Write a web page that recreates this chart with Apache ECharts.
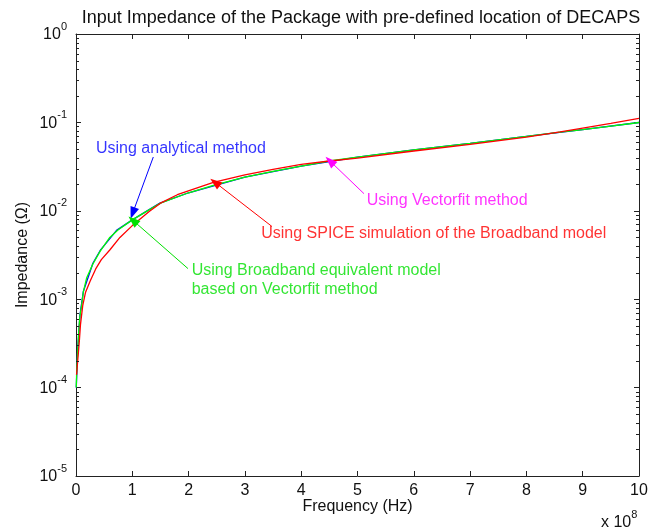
<!DOCTYPE html>
<html>
<head>
<meta charset="utf-8">
<script src="https://cdn.jsdelivr.net/npm/echarts@6/dist/echarts.min.js"></script>
<style>
html,body{margin:0;padding:0;background:#fff;}
#chart{width:660px;height:529px;}
</style>
</head>
<body>
<div id="chart"></div>
<script>
// ---- data (frequency in units of 1e8 Hz, impedance in ohms) ----
const titleText = 'Input Impedance of the Package with pre-defined location of DECAPS';
const xTickLabels = ['0','1','2','3','4','5','6','7','8','9','10'];
const yDecades = [-5, -4, -3, -2, -1, 0];
const minorMantissas = [2, 3, 4, 5, 6, 7, 8, 9];

const freqBlue = [0.005, 0.03, 0.07, 0.13, 0.3, 0.43, 0.72, 1.0, 1.49, 2.0, 3.0, 4.0, 5.0, 6.0, 7.0, 8.0, 9.0, 10.0];
const zBlue = [1.0e-4, 2.7e-4, 6.6e-4, 1.22e-3, 2.55e-3, 3.56e-3, 6.0e-3, 7.9e-3, 1.22e-2, 1.6e-2, 2.4e-2, 3.2e-2, 4.05e-2, 4.9e-2, 5.8e-2, 6.95e-2, 8.3e-2, 0.0997];

const freqGreen = [0.005, 0.012, 0.03, 0.05, 0.07, 0.1, 0.13, 0.19, 0.3, 0.43, 0.6, 0.75, 1.0, 1.5, 2.0, 2.44, 3.0, 3.5, 4.0, 4.5, 5.0, 6.0, 7.0, 8.0, 8.6, 9.0, 9.5, 10.0];
const zGreen = [1.0e-4, 1.5e-4, 2.6e-4, 4.5e-4, 6.5e-4, 8.5e-4, 1.2e-3, 1.75e-3, 2.5e-3, 3.5e-3, 5.0e-3, 6.1e-3, 7.9e-3, 1.22e-2, 1.6e-2, 1.94e-2, 2.4e-2, 2.8e-2, 3.2e-2, 3.66e-2, 4.05e-2, 4.9e-2, 5.8e-2, 6.95e-2, 7.75e-2, 8.3e-2, 9.1e-2, 0.0997];

const freqRed = [0.01, 0.03, 0.06, 0.08, 0.12, 0.17, 0.25, 0.35, 0.45, 0.6, 0.78, 1.0, 1.3, 1.5, 1.8, 2.44, 3.0, 3.5, 4.0, 4.5, 5.0, 6.0, 7.0, 8.0, 8.6, 9.0, 9.5, 10.0];
const zRed = [1.4e-4, 2.0e-4, 3.4e-4, 5.2e-4, 8.5e-4, 1.2e-3, 1.6e-3, 2.2e-3, 2.8e-3, 3.6e-3, 5.0e-3, 6.8e-3, 9.8e-3, 1.22e-2, 1.52e-2, 2.1e-2, 2.55e-2, 2.95e-2, 3.35e-2, 3.66e-2, 3.95e-2, 4.75e-2, 5.65e-2, 6.8e-2, 7.8e-2, 8.6e-2, 9.75e-2, 0.111];

// annotation texts, anchored (left edge, vertical centre) at data coordinates
const noteTexts = ['Using analytical method', 'Using Vectorfit method', 'Using SPICE simulation of the Broadband model', 'Using Broadband equivalent model\nbased on Vectorfit method'];
const noteX = [0.355, 5.163, 3.29, 2.055];
const noteY = [0.0510, 0.01288, 0.00554, 0.001625];
// arrows: from (x0,y0) to head (x1,y1)
const arrowX0 = [1.373, 5.115, 3.48, 1.989];
const arrowY0 = [0.0406, 0.01563, 0.00665, 0.00222];
const arrowX1 = [1.007, 4.51, 2.469, 1.012];
const arrowY1 = [0.00942, 0.0366, 0.0210, 0.00778];

// ---- build ----
const noteColors = ['#0000ff', '#ff00ff', '#ff0000', '#00e000'];
const FONT = '"Liberation Sans", Arial, Helvetica, sans-serif';
const zip = (a, b) => a.map((v, i) => [v, b[i]]);

const minorVals = [];
yDecades.slice(0, -1).forEach(d => minorMantissas.forEach(m => minorVals.push(m * Math.pow(10, d))));

const chart = echarts.init(document.getElementById('chart'), null, {renderer: 'canvas'});

const supRich = {
  b: {fontSize: 16, fontFamily: FONT, color: '#111', lineHeight: 16, padding: [0, 0, 6, 0], verticalAlign: 'bottom'},
  s: {fontSize: 11, fontFamily: FONT, color: '#111', lineHeight: 11, padding: [0, 0, 17, 0], verticalAlign: 'bottom'}
};

const axisLineStyle = {color: '#222', width: 1};

const option = {
  backgroundColor: '#ffffff',
  animation: false,
  title: {
    text: titleText,
    left: 356, top: 4, textAlign: 'center',
    textStyle: {fontFamily: FONT, fontSize: 18, fontWeight: 'normal', color: '#111'}
  },
  grid: {left: 76, right: 21, top: 34, bottom: 53, containLabel: false, outerBoundsMode: 'none'},
  xAxis: [{
    type: 'value', min: 0, max: 10, interval: 1, position: 'bottom',
    name: 'Frequency (Hz)', nameLocation: 'middle', nameGap: 23, nameMoveOverlap: false,
    nameTextStyle: {fontFamily: FONT, fontSize: 16, color: '#111'},
    axisLine: {show: true, lineStyle: axisLineStyle, onZero: false},
    axisTick: {show: true, inside: true, length: 5, lineStyle: axisLineStyle},
    axisLabel: {show: true, margin: 7, fontFamily: FONT, fontSize: 16, color: '#111',
      formatter: (v) => xTickLabels[Math.round(v)]},
    splitLine: {show: false}
  }, {
    type: 'value', min: 0, max: 10, interval: 1, position: 'top',
    axisLine: {show: true, lineStyle: axisLineStyle, onZero: false},
    axisTick: {show: true, inside: true, length: 5, lineStyle: axisLineStyle},
    axisLabel: {show: false}, splitLine: {show: false}
  }],
  yAxis: [{
    type: 'log', logBase: 10, min: 1e-5, max: 1, interval: 1, position: 'left',
    name: 'Impedance (Ω)', nameLocation: 'middle', nameGap: 45, nameRotate: 90, nameMoveOverlap: false,
    nameTextStyle: {fontFamily: FONT, fontSize: 16, color: '#111'},
    axisLine: {show: true, lineStyle: axisLineStyle, onZero: false},
    axisTick: {show: true, inside: true, length: 5, lineStyle: axisLineStyle},
    axisLabel: {show: true, margin: 9, rich: supRich, padding: [14, 0, 0, 0],
      formatter: (v) => '{b|10}{s|' + Math.round(Math.log10(v)) + '}'},
    splitLine: {show: false}
  }, {
    type: 'log', logBase: 10, min: 1e-5, max: 1, interval: 1, position: 'right',
    axisLine: {show: true, lineStyle: axisLineStyle, onZero: false},
    axisTick: {show: true, inside: true, length: 5, lineStyle: axisLineStyle},
    axisLabel: {show: false}, splitLine: {show: false}
  }],
  graphic: [{
    type: 'text', left: 601, top: 509,
    style: {
      text: '{a|x 10}{b|8}',
      rich: {
        a: {fontSize: 16, fontFamily: FONT, fill: '#111', color: '#111', verticalAlign: 'bottom', lineHeight: 16},
        b: {fontSize: 11, fontFamily: FONT, fill: '#111', color: '#111', verticalAlign: 'bottom', lineHeight: 11, padding: [0, 0, 11, 0]}
      }
    }
  }],
  series: [
    {
      name: 'minor ticks', type: 'custom', xAxisIndex: 0, yAxisIndex: 0, silent: true, clip: false, z: 5,
      data: minorVals.map(v => [0, v]),
      renderItem: function (params, api) {
        const v = api.value(1);
        const pl = api.coord([0, v]);
        const pr = api.coord([10, v]);
        const st = {stroke: '#222', lineWidth: 1};
        return {type: 'group', children: [
          {type: 'line', shape: {x1: pl[0], y1: Math.round(pl[1]) + 0.5, x2: pl[0] + 3, y2: Math.round(pl[1]) + 0.5}, style: st},
          {type: 'line', shape: {x1: pr[0] - 3, y1: Math.round(pr[1]) + 0.5, x2: pr[0], y2: Math.round(pr[1]) + 0.5}, style: st}
        ]};
      }
    },
    {
      name: 'Analytical', type: 'line', data: zip(freqBlue, zBlue), showSymbol: false, smooth: false,
      lineStyle: {color: '#0000ff', width: 1.3}, z: 2
    },
    {
      name: 'Broadband equivalent', type: 'line', data: zip(freqGreen, zGreen), showSymbol: false,
      lineStyle: {color: '#00ff00', width: 1.3}, z: 3
    },
    {
      name: 'SPICE', type: 'line', data: zip(freqRed, zRed), showSymbol: false,
      lineStyle: {color: '#ff0000', width: 1.3}, z: 4,
      markLine: {
        silent: true, animation: false, symbol: ['none', 'triangle'], symbolSize: [9, 12],
        label: {show: false},
        data: arrowX0.map((x, i) => [
          {coord: [x, arrowY0[i]], lineStyle: {color: noteColors[i], width: 1, type: 'solid'}, itemStyle: {color: noteColors[i]}},
          {coord: [arrowX1[i], arrowY1[i]]}
        ])
      }
    },
    {
      name: 'notes', type: 'scatter', symbolSize: 0, silent: true, z: 6,
      data: noteTexts.map((t, i) => ({
        value: [noteX[i], noteY[i]], name: t,
        label: {show: true, position: 'right', distance: 0, formatter: t,
          color: noteColors[i], fontFamily: FONT, fontSize: 16, lineHeight: 19, align: 'left'}
      }))
    }
  ]
};
chart.setOption(option);
</script>
</body>
</html>
